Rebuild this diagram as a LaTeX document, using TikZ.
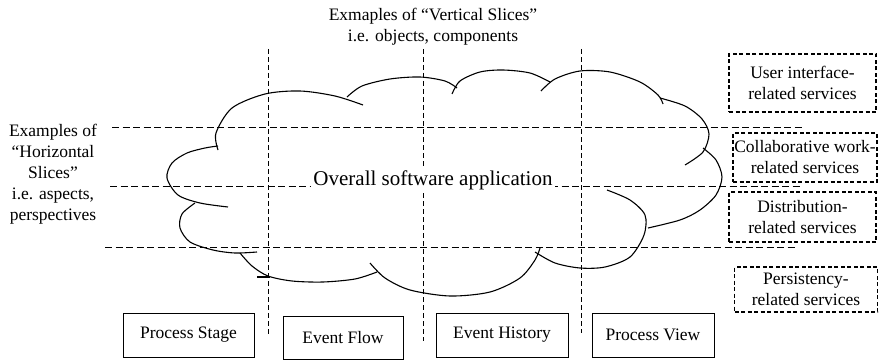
\documentclass[tikz,border=0pt]{standalone}
\usepackage{fontspec}
\setmainfont{Liberation Serif}
\tikzset{
  slice/.style={dash pattern=on 7pt off 3.5pt, line width=1pt},
  vslice/.style={dash pattern=on 5pt off 3pt, line width=.9pt},
  lobe/.style={line width=1.1pt},
  comp/.style={draw, line width=1pt, minimum height=44pt, inner sep=0pt, font=\fontsize{17.5}{21}\selectfont},
  service/.style={draw, dash pattern=on 4pt off 2.5pt, line width=1.5pt, inner sep=0pt, align=center, font=\fontsize{17.5}{21}\selectfont},
  note/.style={align=center, inner sep=0pt, font=\fontsize{17.5}{21}\selectfont}
}
\begin{document}
\begin{tikzpicture}[x=1pt,y=-1pt]
  \useasboundingbox (0,0) rectangle (879,361);
  \node[note] (vtitle) at (433,16) {Exmaples of “Vertical Slices”};
  \node[note] (vsub) at (433,37) {i.e. objects, components};
  \node[note] (htitle) at (53,174) {Examples of\\“Horizontal\\Slices”\\i.e. aspects,\\perspectives};

  \draw[vslice] (268,49) -- (268,334);
  \draw[vslice] (423,49) -- (423,341);
  \draw[vslice] (581,49) -- (581,333);
  \draw[slice] (112,127) -- (802,127);
  \draw[slice] (110,186) -- (800,186);
  \draw[slice] (105,247) -- (798,247);

  \draw[lobe] plot[smooth] coordinates {(218,150) (216,133) (232,108) (265,94) (300,91) (335,96) (363,105)};
  \draw[lobe] plot[smooth] coordinates {(347,97) (362,86) (390,79) (420,77) (445,81) (457,88)};
  \draw[lobe] plot[smooth] coordinates {(452,94) (460,81) (480,72) (503,70) (530,73) (550,82)};
  \draw[lobe] plot[smooth] coordinates {(541,91) (555,79) (580,71) (610,72) (640,82) (658,95) (663,104)};
  \draw[lobe] plot[smooth] coordinates {(660,98) (685,106) (702,119) (709,134) (703,152) (685,165)};
  \draw[lobe] plot[smooth] coordinates {(703,148) (716,160) (722,177) (716,195) (700,210) (680,220) (648,228)};
  \draw[lobe] plot[smooth] coordinates {(607,190) (630,200) (645,215) (644,235) (630,257) (605,267) (580,268) (555,263) (535,252)};
  \draw[lobe] plot[smooth] coordinates {(370,263) (385,278) (410,290) (450,296) (490,292) (520,278) (535,260) (540,248)};
  \draw[lobe] plot[smooth] coordinates {(240,253) (252,266) (268,276) (292,281) (323,282) (355,279) (377,272)};
  \draw[lobe] plot[smooth] coordinates {(195,203) (182,214) (180,228) (190,242) (213,250) (235,253) (257,252)};
  \draw[lobe] plot[smooth] coordinates {(228,207) (200,203) (178,195) (167,178) (172,163) (187,153) (205,148) (218,146)};
  \draw[lobe] (257,277) -- (270,277);

  \node[fill=white, inner sep=2pt, anchor=base, font=\fontsize{21}{25}\selectfont] (app) at (433,185) {Overall software application};

  \node[comp, minimum width=131pt] (stage) at (188.5,335) {Process Stage};
  \node[comp, minimum width=120pt, minimum height=43pt] (flow) at (343,337.5) {Event Flow};
  \node[comp, minimum width=132pt] (history) at (502,335) {Event History};
  \node[comp, minimum width=122pt] (view) at (653,335) {Process View};

  \node[service, minimum width=147pt, minimum height=58pt] (ui) at (802.5,83) {User interface-\\related services};
  \node[service, line width=1.3pt, minimum width=144pt, minimum height=49pt] (collab) at (805,157.5) {Collaborative work-\\related services};
  \node[service, minimum width=147pt, minimum height=50pt] (distr) at (802.5,217) {Distribution-\\related services};
  \node[service, line width=1.3pt, minimum width=143pt, minimum height=45pt] (persist) at (806,289.5) {Persistency-\\related services};
\end{tikzpicture}
\end{document}
